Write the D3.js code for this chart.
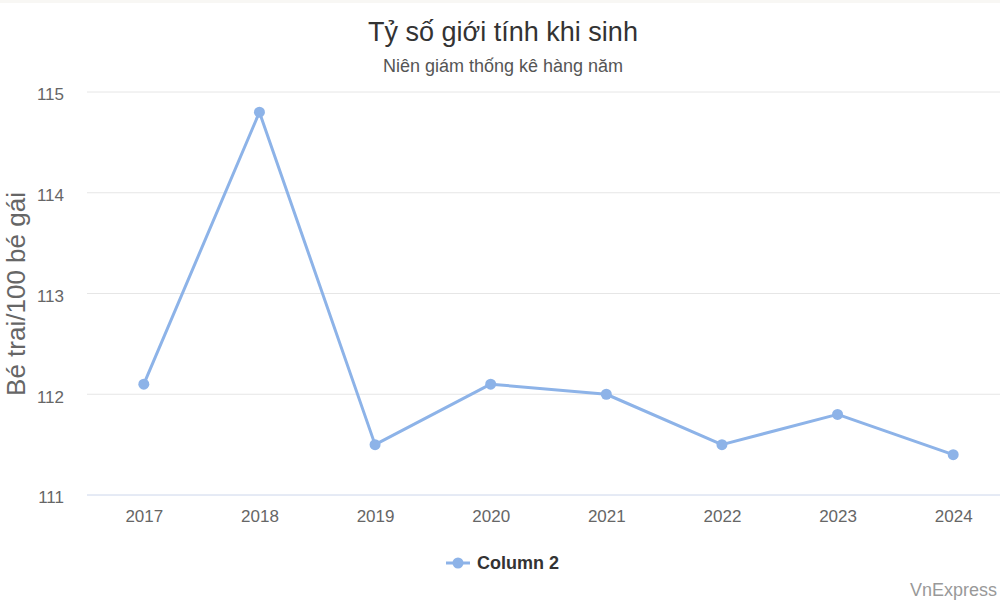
<!DOCTYPE html>
<html><head><meta charset="utf-8">
<script src="https://cdn.jsdelivr.net/npm/d3@7"></script>
<style>body{margin:0;background:#fff;font-family:"Liberation Sans",Arial,sans-serif}</style>
</head><body>
<svg id="c" width="1000" height="600"></svg>
<script>
const years = ["2017","2018","2019","2020","2021","2022","2023","2024"];
const values = [112.1, 114.8, 111.5, 112.1, 112.0, 111.5, 111.8, 111.4];
const yTicks = [111, 112, 113, 114, 115];
const seriesName = "Column 2";

const svg = d3.select("#c");
const W = 1000, H = 600;
const color = "#8db3e8";
svg.append("rect").attr("width", W).attr("height", H).attr("fill", "#fff");
svg.append("rect").attr("width", W).attr("height", 3).attr("fill", "#f8f7f4");

const x = d3.scalePoint().domain(years).range([86, 1011]).padding(0.5);
const y = d3.scaleLinear().domain([111, 115]).range([495, 92]);

// gridlines
svg.append("g").selectAll("line").data(yTicks.filter(t => t !== 111)).join("line")
  .attr("x1", 87).attr("x2", 1000)
  .attr("y1", d => y(d)).attr("y2", d => y(d))
  .attr("stroke", "#e6e6e6").attr("stroke-width", 1);
svg.append("line").attr("x1", 87).attr("x2", 1000).attr("y1", y(111)).attr("y2", y(111))
  .attr("stroke", "#ccd6eb").attr("stroke-width", 1);

// y axis labels
const yAxis = d3.axisLeft(y).tickValues(yTicks).tickSize(0).tickPadding(0).tickFormat(d3.format("d"));
const gy = svg.append("g").attr("transform", "translate(64,2)").call(yAxis);
gy.select(".domain").remove();
gy.selectAll("text").attr("fill", "#666").style("font-size", "17px").style("font-family", "'Liberation Sans',Arial,sans-serif").attr("dy", "0.35em");

// x axis labels
const xAxis = d3.axisBottom(x).tickSize(0).tickPadding(0);
const gx = svg.append("g").attr("transform", "translate(0,510)").call(xAxis);
gx.select(".domain").remove();
gx.selectAll("text").attr("fill", "#666").style("font-size", "17px").style("font-family", "'Liberation Sans',Arial,sans-serif").attr("dy", "0.71em");

// line
const line = d3.line().x((d, i) => x(years[i])).y(d => y(d));
svg.append("path").datum(values).attr("d", line).attr("fill", "none")
  .attr("stroke", color).attr("stroke-width", 3).attr("stroke-linejoin", "round");
svg.append("g").selectAll("circle").data(values).join("circle")
  .attr("cx", (d, i) => x(years[i])).attr("cy", d => y(d)).attr("r", 5.5).attr("fill", color);

// titles
svg.append("text").attr("x", 503).attr("y", 41).attr("text-anchor", "middle")
  .attr("fill", "#333").style("font-size", "27px").text("Tỷ số giới tính khi sinh");
svg.append("text").attr("x", 503).attr("y", 72).attr("text-anchor", "middle")
  .attr("fill", "#555").style("font-size", "18px").text("Niên giám thống kê hàng năm");
svg.append("text").attr("transform", "translate(25,294) rotate(-90)").attr("text-anchor", "middle")
  .attr("fill", "#666").style("font-size", "26px").text("Bé trai/100 bé gái");

// legend
const lg = svg.append("g").attr("transform", "translate(446,563)");
lg.append("line").attr("x1", 0).attr("x2", 24).attr("y1", 0).attr("y2", 0).attr("stroke", color).attr("stroke-width", 3);
lg.append("circle").attr("cx", 12).attr("cy", 0).attr("r", 5.5).attr("fill", color);
lg.append("text").attr("x", 31).attr("y", 6).attr("fill", "#333").style("font-size", "18px").style("font-weight", "bold").text(seriesName);

// credits
svg.append("text").attr("x", 997).attr("y", 596).attr("text-anchor", "end")
  .attr("fill", "#999").style("font-size", "18px").text("VnExpress");
</script>
</body></html>
